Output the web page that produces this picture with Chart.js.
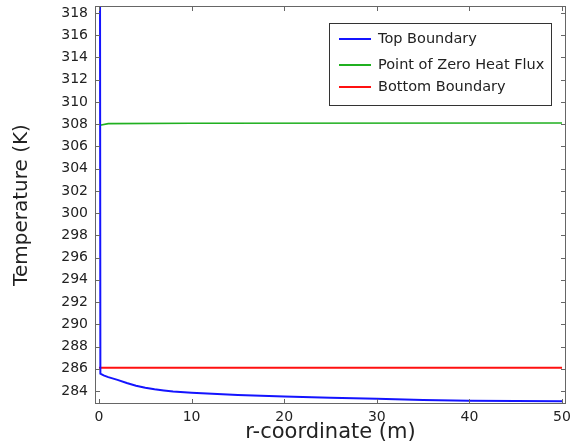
<!DOCTYPE html>
<html>
<head>
<meta charset="utf-8">
<script src="https://cdn.jsdelivr.net/npm/chart.js@4"></script>
<style>
  body { margin: 0; background: #fff; }
  #wrap { width: 571px; height: 447px; position: relative; }
</style>
</head>
<body>
<div id="wrap"><canvas id="chart"></canvas></div>
<script>
// tick values
const xTicks = [0, 10, 20, 30, 40, 50];
const yTicks = [284, 286, 288, 290, 292, 294, 296, 298, 300, 302, 304, 306, 308, 310, 312, 314, 316, 318];

// Top Boundary (spikes at r=0, then decays)
const topR = [0.1, 0.15, 0.5, 1, 2, 3, 4, 5, 6, 7, 8, 10, 15, 20, 25, 30, 35, 40, 45, 50];
const topT = [330, 285.55, 285.4, 285.25, 285.0, 284.72, 284.48, 284.3, 284.15, 284.05, 283.95, 283.85, 283.65, 283.5, 283.4, 283.3, 283.2, 283.13, 283.1, 283.07];

// Point of Zero Heat Flux
const midR = [0.1, 1, 10, 50];
const midT = [307.9, 308.05, 308.08, 308.1];

// Bottom Boundary
const botR = [0, 50];
const botT = [286.1, 286.1];

const pts = (xs, ys) => xs.map((x, i) => ({ x: x, y: ys[i] }));

const frame = { left: 95, top: 6, right: 566, bottom: 404 };

// inward ticks on all four sides + box frame + legend
const framePlugin = {
    id: 'framePlugin',
    afterDatasetsDraw(chart) {
        const ctx = chart.ctx;
        const a = chart.chartArea;
        const xs = chart.scales.x, ys = chart.scales.y;
        ctx.save();
        ctx.strokeStyle = '#666';
        ctx.lineWidth = 1;
        ctx.beginPath();
        xTicks.forEach(v => {
            const px = Math.round(xs.getPixelForValue(v)) + 0.5;
            ctx.moveTo(px, a.bottom); ctx.lineTo(px, a.bottom - 5);
            ctx.moveTo(px, a.top); ctx.lineTo(px, a.top + 5);
        });
        yTicks.forEach(v => {
            const py = Math.round(ys.getPixelForValue(v)) + 0.5;
            ctx.moveTo(a.left, py); ctx.lineTo(a.left + 5, py);
            ctx.moveTo(a.right, py); ctx.lineTo(a.right - 5, py);
        });
        ctx.stroke();
        ctx.strokeRect(a.left + 0.5, a.top + 0.5, a.right - a.left - 1, a.bottom - a.top - 1);

        // legend box
        const lx = 329, ly = 23, lw = 222, lh = 82;
        ctx.fillStyle = '#fff';
        ctx.fillRect(lx, ly, lw, lh);
        ctx.strokeStyle = '#333';
        ctx.strokeRect(lx + 0.5, ly + 0.5, lw, lh);
        const rows = [39, 65, 87];
        ctx.font = '14.5px "DejaVu Sans"';
        ctx.textBaseline = 'middle';
        chart.data.datasets.forEach((ds, i) => {
            ctx.strokeStyle = ds.borderColor;
            ctx.lineWidth = 2;
            ctx.beginPath();
            ctx.moveTo(339, rows[i]); ctx.lineTo(371, rows[i]);
            ctx.stroke();
            ctx.fillStyle = '#222';
            ctx.fillText(ds.label, 378, rows[i]);
        });
        ctx.restore();
    }
};

new Chart(document.getElementById('chart'), {
    type: 'scatter',
    data: {
        datasets: [
            { label: 'Top Boundary', data: pts(topR, topT), borderColor: '#1414ff', borderWidth: 2 },
            { label: 'Point of Zero Heat Flux', data: pts(midR, midT), borderColor: '#20b020', borderWidth: 1.6 },
            { label: 'Bottom Boundary', data: pts(botR, botT), borderColor: '#ff1010', borderWidth: 2 }
        ].map(d => Object.assign(d, { showLine: true, pointRadius: 0, fill: false, tension: 0 }))
    },
    options: {
        responsive: true,
        maintainAspectRatio: false,
        animation: false,
        layout: { padding: { top: frame.top, right: 571 - frame.right, left: 0, bottom: 0 } },
        plugins: { legend: { display: false }, tooltip: { enabled: false } },
        scales: {
            x: {
                type: 'linear',
                min: -0.43,
                max: 50.43,
                grid: { display: false, drawTicks: false },
                border: { display: false },
                afterBuildTicks: s => { s.ticks = xTicks.map(v => ({ value: v })); },
                afterFit: s => { s.height = 447 - frame.bottom; s.paddingLeft = 0; s.paddingRight = 0; },
                ticks: { padding: 5, color: '#222', font: { family: 'DejaVu Sans', size: 14 } },
                title: { display: true, text: 'r-coordinate (m)', color: '#222', font: { family: 'DejaVu Sans', size: 21 }, padding: { top: 0, bottom: 2 } }
            },
            y: {
                type: 'linear',
                min: 282.83,
                max: 318.63,
                grid: { display: false, drawTicks: false },
                border: { display: false },
                afterBuildTicks: s => { s.ticks = yTicks.map(v => ({ value: v })); },
                afterFit: s => { s.width = frame.left; s.paddingTop = 0; s.paddingBottom = 0; },
                ticks: { padding: 7, color: '#222', font: { family: 'DejaVu Sans', size: 14 } },
                title: { display: true, text: 'Temperature (K)', color: '#222', font: { family: 'DejaVu Sans', size: 20 }, padding: { top: 10, bottom: 0 } }
            }
        }
    },
    plugins: [framePlugin]
});
</script>
</body>
</html>
